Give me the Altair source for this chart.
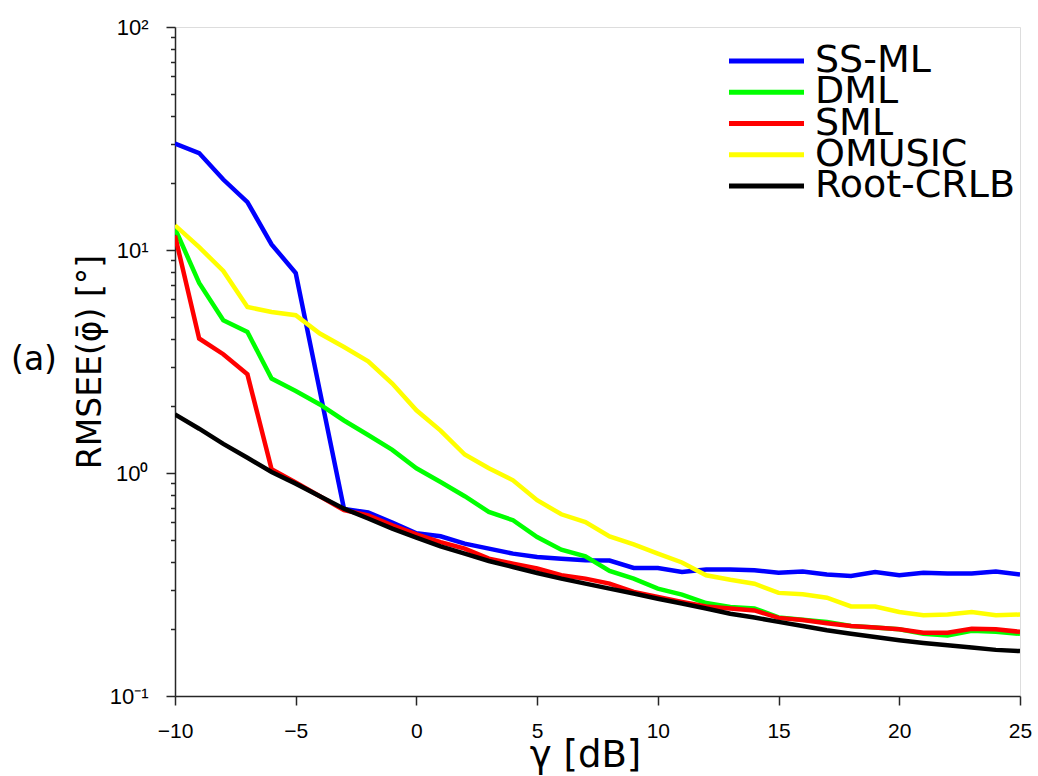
import altair as alt
import pandas as pd

gamma = list(range(-10, 26))

series_names = ["SS-ML", "DML", "SML", "OMUSIC", "Root-CRLB"]
series_colors = ["#0000FF", "#00FF00", "#FF0000", "#FFFF00", "#000000"]

ss_ml = [30.0, 27.2, 20.7, 16.4, 10.6, 7.88, 2.33, 0.69, 0.665, 0.60,
         0.537, 0.520, 0.482, 0.458, 0.435, 0.420, 0.413, 0.406, 0.405, 0.375,
         0.375, 0.360, 0.369, 0.369, 0.366, 0.357, 0.362, 0.351, 0.345, 0.360,
         0.348, 0.357, 0.354, 0.354, 0.362, 0.351]
dml = [12.5, 7.11, 4.84, 4.29, 2.65, 2.33, 2.03, 1.72, 1.48, 1.27,
       1.05, 0.911, 0.787, 0.669, 0.614, 0.516, 0.453, 0.423, 0.364, 0.336,
       0.303, 0.285, 0.261, 0.251, 0.247, 0.225, 0.220, 0.215, 0.206, 0.203,
       0.199, 0.190, 0.187, 0.196, 0.194, 0.190]
sml = [11.6, 4.01, 3.41, 2.77, 1.04, 0.906, 0.787, 0.681, 0.646, 0.583,
       0.531, 0.490, 0.458, 0.413, 0.392, 0.373, 0.348, 0.336, 0.319, 0.293,
       0.278, 0.264, 0.252, 0.247, 0.242, 0.224, 0.219, 0.212, 0.206, 0.203,
       0.199, 0.192, 0.192, 0.200, 0.199, 0.194]
omusic = [12.9, 10.3, 8.05, 5.55, 5.27, 5.10, 4.22, 3.67, 3.17, 2.52,
          1.91, 1.55, 1.21, 1.05, 0.927, 0.755, 0.653, 0.603, 0.520, 0.479,
          0.435, 0.397, 0.348, 0.332, 0.319, 0.290, 0.286, 0.276, 0.252, 0.252,
          0.238, 0.230, 0.232, 0.238, 0.230, 0.232]
crlb = [1.83, 1.58, 1.35, 1.17, 1.01, 0.896, 0.787, 0.692, 0.625, 0.563,
        0.513, 0.469, 0.435, 0.403, 0.379, 0.356, 0.336, 0.319, 0.303, 0.288,
        0.273, 0.260, 0.247, 0.234, 0.225, 0.215, 0.206, 0.197, 0.190, 0.184,
        0.178, 0.173, 0.169, 0.165, 0.161, 0.159]

x_ticks = [-10, -5, 0, 5, 10, 15, 20, 25]
y_ticks = [m * 10.0 ** e for e in (-1, 0, 1) for m in range(1, 10)] + [100.0]

all_values = [ss_ml, dml, sml, omusic, crlb]
rows = []
for name, vals in zip(series_names, all_values):
    for g, v in zip(gamma, vals):
        rows.append({"gamma": g, "rmse": v, "series": name})
df = pd.DataFrame(rows)
legend_df = pd.DataFrame({"series": series_names})

W, H = 845, 669

x_enc = alt.X(
    "gamma:Q",
    scale=alt.Scale(domain=[-10, 25], nice=False, zero=False),
    axis=alt.Axis(
        values=x_ticks, title="γ [dB]", grid=False,
        tickSize=9, labelPadding=15, labelFont="Liberation Sans", labelFontSize=21,
        labelColor="#000000", tickColor="#262626", domainColor="#262626",
        domainWidth=1.5, tickWidth=1.5, labelFlush=False,
        titleFont="DejaVu Sans", titleFontSize=37, titleFontWeight="normal",
        titleColor="#000000", titleX=410, titleY=70, titleBaseline="alphabetic",
        titleAlign="center",
    ),
)

y_label_expr = ("datum.value == 100 ? '10²' : datum.value == 10 ? '10¹' : "
                "datum.value == 1 ? '10⁰' : datum.value == 0.1 ? '10⁻¹' : ''")
major_test = "abs(log(datum.value)/LN10 - round(log(datum.value)/LN10)) < 0.001"

y_enc = alt.Y(
    "rmse:Q",
    scale=alt.Scale(type="log", domain=[0.1, 100], nice=False),
    axis=alt.Axis(
        values=y_ticks, labelExpr=y_label_expr, grid=False,
        tickSize={"condition": {"test": major_test, "value": 9}, "value": 4.5},
        labelPadding=18, labelFont="Liberation Sans", labelFontSize=22,
        labelColor="#000000", tickColor="#262626", domainColor="#262626",
        domainWidth=1.5, tickWidth=1.5, labelFlush=False, labelOverlap=False,
        title="RMSEE(φ̄) [°]", titleFont="DejaVu Sans", titleFontSize=33,
        titleFontWeight="normal", titleColor="#000000", titleAngle=270,
        titleX=-75, titleY=H / 2, titleBaseline="alphabetic", titleAlign="center",
    ),
)

color_enc = alt.Color(
    "series:N",
    scale=alt.Scale(domain=series_names, range=series_colors),
    legend=None,
)

layers = []
for name in series_names:
    layers.append(
        alt.Chart(df)
        .transform_filter(alt.datum.series == name)
        .mark_line(strokeWidth=4.5, clip=True)
        .encode(x=x_enc, y=y_enc, color=color_enc)
    )

# legend drawn from the series names, rows placed by a point scale
legend_y = alt.Y(
    "series:N",
    scale=alt.Scale(type="point", domain=series_names, range=[34, 159], padding=0),
    axis=None,
)
legend_lines = (
    alt.Chart(legend_df)
    .mark_rule(strokeWidth=5)
    .encode(x=alt.value(554), x2=alt.value(629), y=legend_y, color=color_enc)
)
legend_text = (
    alt.Chart(legend_df)
    .mark_text(font="DejaVu Sans", fontSize=38, align="left", baseline="middle", color="#000000")
    .encode(x=alt.value(640), y=legend_y, text="series:N")
)
legend = alt.layer(legend_lines, legend_text)

panel_label = (
    alt.Chart(pd.DataFrame({"t": ["(a)"]}))
    .mark_text(font="DejaVu Sans", fontSize=33, align="center", baseline="middle", color="#000000")
    .encode(text="t:N", x=alt.value(-141), y=alt.value(333))
)

chart = (
    alt.layer(alt.layer(*layers), legend, panel_label)
    .resolve_scale(y="independent")
    .properties(
        width=W, height=H,
        autosize=alt.AutoSizeParams(type="none"),
        padding={"left": 175, "top": 27, "right": 18, "bottom": 80},
    )
    .configure_view(stroke=None)
    .configure(background="white")
)

chart.save("out.html", embed_options={"renderer": "svg", "actions": False})
